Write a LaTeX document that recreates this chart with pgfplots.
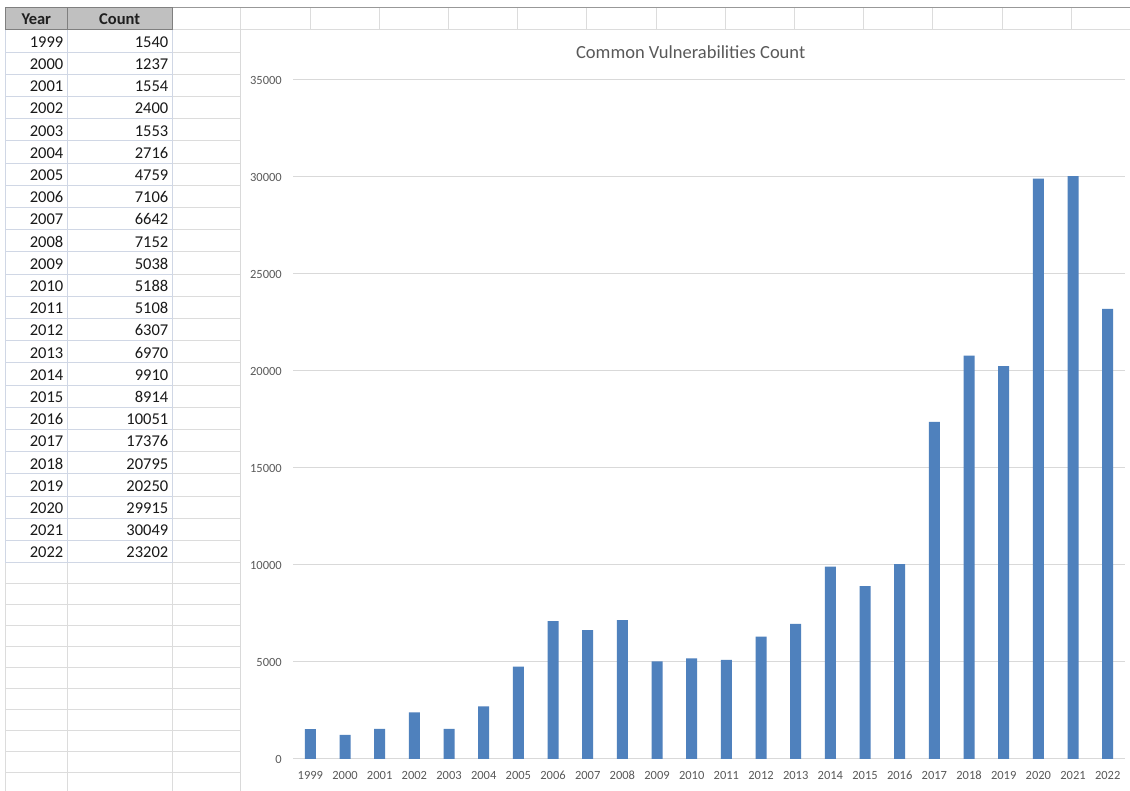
\documentclass[border=0pt]{standalone}
\usepackage{fontspec}
\setmainfont{Carlito}
\usepackage{pgfplots}
\usepackage{pgfplotstable}
\pgfplotsset{compat=1.18}
\definecolor{barblue}{HTML}{4F81BD}
\definecolor{gridgray}{HTML}{D9D9D9}
\definecolor{labgray}{HTML}{595959}
\definecolor{cellblue}{HTML}{D0D7E5}
\definecolor{sheetgray}{HTML}{DCDCDC}
\definecolor{hdrgray}{HTML}{C0C0C0}
\definecolor{hdrborder}{HTML}{7F7F7F}

\pgfplotstableread{
idx Year Count
0 1999 1540
1 2000 1237
2 2001 1554
3 2002 2400
4 2003 1553
5 2004 2716
6 2005 4759
7 2006 7106
8 2007 6642
9 2008 7152
10 2009 5038
11 2010 5188
12 2011 5108
13 2012 6307
14 2013 6970
15 2014 9910
16 2015 8914
17 2016 10051
18 2017 17376
19 2018 20795
20 2019 20250
21 2020 29915
22 2021 30049
23 2022 23202
}\cvedata

\begin{document}
\begin{tikzpicture}
\useasboundingbox (0pt,0pt) rectangle (1130pt,791pt);
\begin{scope}[x=1pt,y=1pt]
\fill[white] (0,0) rectangle (1130,791);
% ---- spreadsheet grid ----
\foreach \k in {0,...,10} {
  \pgfmathsetmacro{\yy}{791-(562.7+21*\k)}
  \draw[sheetgray, line width=1pt] (5.3,\yy) -- (240.7,\yy);
}
\foreach \xx in {5.3,67.3,172,240.7} {
  \draw[sheetgray, line width=1pt] (\xx,{791-562.7}) -- (\xx,0);
}
\foreach \i in {0,...,23} {
  \pgfmathsetmacro{\yy}{791-(30+22.2*(\i+1))}
  \draw[sheetgray, line width=1pt] (172,\yy) -- (240.7,\yy);
  \draw[cellblue, line width=1pt] (5.3,\yy) -- (172,\yy);
}
\foreach \xx in {5.3,67.3,172} {
  \draw[cellblue, line width=1pt] (\xx,{791-30}) -- (\xx,{791-562.7});
}
\draw[sheetgray, line width=1pt] (240.7,{791-30}) -- (240.7,{791-562.7});
\draw[sheetgray, line width=1pt] (172,{791-29.5}) -- (1130,{791-29.5});
\foreach \xx in {240.7,310,379.3,448.5,517.7,586.9,656.1,725.3,794.5,863.7,932.9,1002.1,1071.3} {
  \draw[sheetgray, line width=1pt] (\xx,{791-7.5}) -- (\xx,{791-29.5});
}
\draw[hdrborder!80, line width=1pt] (5,{791-7.5}) -- (1130,{791-7.5});
\fill[hdrgray] (5.3,{791-8}) rectangle (172,{791-30});
\draw[hdrborder, line width=1pt] (5.3,{791-8}) rectangle (172,{791-30});
\draw[hdrborder, line width=1pt] (67.3,{791-8}) -- (67.3,{791-30});
\node[font=\fontsize{16.5}{18}\selectfont\bfseries, anchor=base, text=black!88] at (36.3,{791-24.5}) {Year};
\node[font=\fontsize{16.5}{18}\selectfont\bfseries, anchor=base, text=black!88] at (119.6,{791-24.5}) {Count};
\foreach \i in {0,...,23} {
  \pgfplotstablegetelem{\i}{Year}\of\cvedata
  \let\yr\pgfplotsretval
  \pgfplotstablegetelem{\i}{Count}\of\cvedata
  \let\ct\pgfplotsretval
  \pgfmathsetmacro{\yy}{791-(30+22.2*(\i+1))+4.8}
  \node[font=\fontsize{16.5}{18}\selectfont, anchor=base east, inner sep=0pt, text=black!90] at (63.5,\yy) {\yr};
  \node[font=\fontsize{16.5}{18}\selectfont, anchor=base east, inner sep=0pt, text=black!90] at (168.5,\yy) {\ct};
}
\draw[gridgray, line width=1pt] (240.7,0) -- (240.7,{791-29.5});
\node[font=\fontsize{18.5}{20}\selectfont, text=labgray] at (690.7,{791-52}) {Common Vulnerabilities Count};
\end{scope}
% ---- chart ----
\begin{axis}[
  at={(293pt,32pt)}, anchor=south west,
  width=832pt, height=679pt, scale only axis,
  xmin=-0.5, xmax=23.5, ymin=0, ymax=35000,
  ytick={0,5000,10000,15000,20000,25000,30000,35000},
  xtick={0,...,23},
  xticklabels from table={\cvedata}{Year},
  axis line style={draw=none},
  major tick length=0pt,
  ymajorgrids,
  grid style={gridgray, line width=1pt},
  scaled y ticks=false,
  /pgf/number format/1000 sep={},
  /pgf/number format/assume math mode=true,
  yticklabel style={font=\fontsize{12.5}{13}\selectfont, text=labgray, inner sep=0pt, anchor=east, xshift=-11pt},
  xticklabel style={font=\fontsize{12.5}{13}\selectfont, text=labgray, inner sep=0pt, anchor=base, yshift=-20.5pt},
  ybar, bar width=11pt,
]
\addplot[fill=barblue, draw=none] table[x=idx, y=Count]{\cvedata};
\end{axis}
\end{tikzpicture}
\end{document}
